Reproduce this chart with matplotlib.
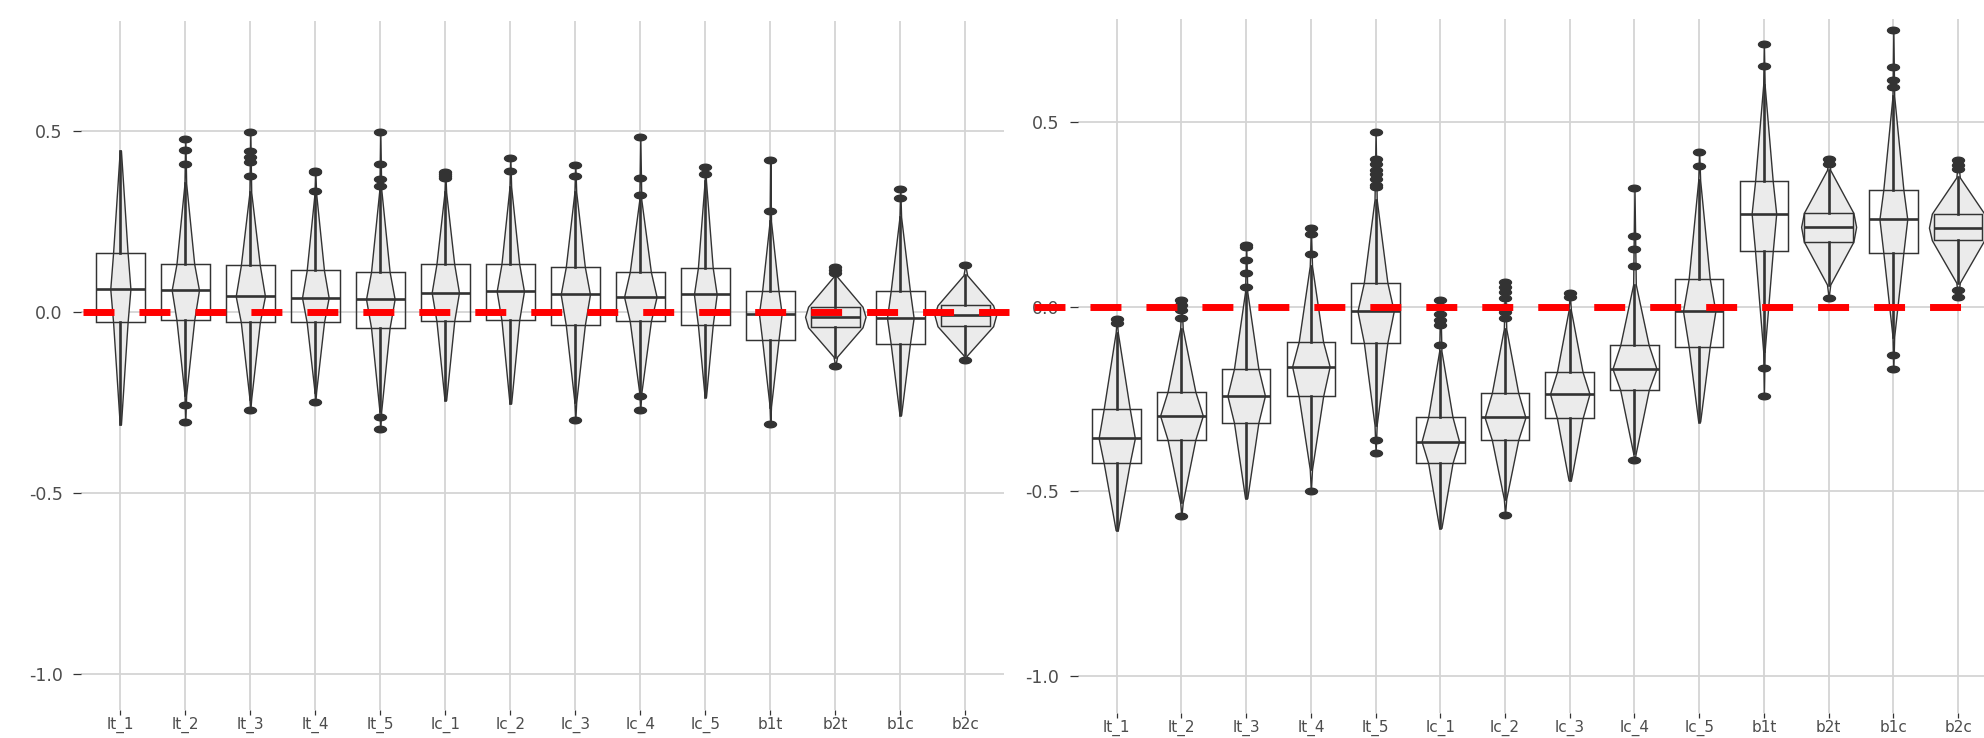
import numpy as np
import matplotlib.pyplot as plt
from matplotlib.lines import Line2D
from matplotlib.path import Path
from matplotlib.patches import Rectangle
from matplotlib.transforms import Affine2D, blended_transform_factory

plt.rcParams['lines.scale_dashes'] = False
plt.rcParams['axes.unicode_minus'] = False
plt.rcParams['font.family'] = ['DejaVu Sans']

###############################
# values
###############################
names = ['lt_1', 'lt_2', 'lt_3', 'lt_4', 'lt_5', 'lc_1', 'lc_2', 'lc_3', 'lc_4', 'lc_5',
         'b1t', 'b2t', 'b1c', 'b2c']
yticks = [-1.0, -0.5, 0.0, 0.5]
ytick_labels = ['-1.0', '-0.5', '0.0', '0.5']

# left panel
left_med = [0.063, 0.060, 0.043, 0.039, 0.035, 0.053, 0.057, 0.048, 0.041, 0.048, -0.005, -0.014, -0.017, -0.009]
left_q1 = [-0.029, -0.023, -0.029, -0.029, -0.044, -0.026, -0.023, -0.037, -0.026, -0.037, -0.078, -0.043, -0.089, -0.040]
left_q3 = [0.163, 0.132, 0.128, 0.114, 0.110, 0.132, 0.132, 0.124, 0.110, 0.122, 0.058, 0.014, 0.058, 0.018]
left_wlo = [-0.311, -0.23, -0.24, -0.221, -0.275, -0.244, -0.253, -0.25, -0.225, -0.235, -0.262, -0.124, -0.285, -0.120]
left_whi = [0.445, 0.355, 0.33, 0.327, 0.34, 0.33, 0.345, 0.331, 0.31, 0.36, 0.25, 0.097, 0.262, 0.101]
left_vwidth = [0.31, 0.42, 0.45, 0.41, 0.44, 0.42, 0.42, 0.45, 0.50, 0.35, 0.35, 0.93, 0.41, 0.95]
left_shoulder = [0.72, 0.65, 0.65, 0.65, 0.65, 0.65, 0.65, 0.65, 0.65, 0.65, 0.72, 0.9, 0.72, 0.9]
left_out = [
    [],
    [0.476, 0.448, 0.407, -0.258, -0.304],
    [0.496, 0.444, 0.428, 0.413, 0.375, -0.272],
    [0.389, 0.385, 0.334, -0.250],
    [0.496, 0.407, 0.366, 0.347, -0.292, -0.324],
    [0.385, 0.380, 0.375, 0.370],
    [0.426, 0.389],
    [0.405, 0.375, -0.299],
    [0.483, 0.370, 0.322, -0.233, -0.272],
    [0.399, 0.38],
    [0.419, 0.279, -0.310],
    [0.124, 0.115, 0.106, -0.150],
    [0.338, 0.313],
    [0.129, -0.134],
]

# right panel
right_med = [-0.356, -0.295, -0.241, -0.162, -0.012, -0.365, -0.300, -0.236, -0.168, -0.012, 0.252, 0.216, 0.237, 0.214]
right_q1 = [-0.423, -0.360, -0.314, -0.243, -0.097, -0.423, -0.360, -0.302, -0.225, -0.108, 0.150, 0.176, 0.146, 0.180]
right_q3 = [-0.277, -0.230, -0.168, -0.095, 0.065, -0.299, -0.234, -0.177, -0.105, 0.076, 0.339, 0.254, 0.317, 0.252]
right_wlo = [-0.605, -0.53, -0.518, -0.44, -0.32, -0.599, -0.52, -0.47, -0.396, -0.311, -0.12, 0.06, -0.081, 0.065]
right_whi = [-0.07, -0.06, 0.04, 0.11, 0.29, -0.12, -0.06, -0.01, 0.06, 0.342, 0.6, 0.37, 0.57, 0.35]
right_vwidth = [0.56, 0.66, 0.58, 0.58, 0.56, 0.58, 0.63, 0.61, 0.68, 0.50, 0.38, 0.85, 0.43, 0.90]
right_shoulder = [0.72, 0.65, 0.65, 0.65, 0.65, 0.65, 0.65, 0.65, 0.65, 0.65, 0.72, 0.9, 0.72, 0.9]
right_out = [
    [-0.032, -0.043],
    [0.018, 0.005, -0.01, -0.03, -0.566],
    [0.167, 0.162, 0.126, 0.090, 0.054],
    [0.212, 0.198, 0.144, -0.500],
    [0.472, 0.401, 0.387, 0.369, 0.360, 0.347, 0.329, 0.323, -0.36, -0.396],
    [0.018, -0.02, -0.035, -0.05, -0.104],
    [0.068, 0.054, 0.041, 0.023, 0.0, -0.015, -0.03, -0.563],
    [0.036, 0.027],
    [0.320, 0.191, 0.155, 0.110, -0.416],
    [0.419, 0.381],
    [0.710, 0.653, -0.167, -0.241],
    [0.400, 0.387, 0.024],
    [0.750, 0.649, 0.614, 0.595, -0.131, -0.169],
    [0.396, 0.383, 0.374, 0.045, 0.027],
]

###############################
# drawing helpers
###############################
DARK = '#333333'
circ = Path.unit_circle()
oval = Path(Affine2D().scale(1.0, 0.55).transform(circ.vertices), circ.codes)


def draw_panel(fig, ax, med, q1, q3, wlo, whi, vwidth, shoulder, outs, ylim, red_x):
    n = len(names)
    for i in range(n):
        lo = min([wlo[i]] + outs[i])
        hi = max([whi[i]] + outs[i])
        hw = vwidth[i] / 2
        ys = np.array([lo, wlo[i], q1[i], med[i], q3[i], whi[i], hi])
        ws = np.array([0, 0.06, shoulder[i], 1.0, shoulder[i], 0.06, 0]) * hw
        ax.fill_betweenx(ys, i - ws, i + ws, facecolor='#EBEBEB', edgecolor=DARK,
                         linewidth=1.0, zorder=2)
        ax.add_patch(Rectangle((i - 0.375, q1[i]), 0.75, q3[i] - q1[i], fill=False,
                               edgecolor=DARK, linewidth=1.05, zorder=3))
        ax.plot([i, i], [q3[i], whi[i]], color=DARK, lw=1.9, zorder=3)
        ax.plot([i, i], [wlo[i], q1[i]], color=DARK, lw=1.9, zorder=3)
        ax.plot([i - 0.375, i + 0.375], [med[i], med[i]], color=DARK, lw=1.9, zorder=3,
                solid_capstyle='butt')
        if outs[i]:
            ax.plot([i] * len(outs[i]), outs[i], linestyle='none', marker=oval,
                    markersize=8.6, color=DARK, zorder=4)

    ax.set_xlim(-0.6, n - 0.4)
    ax.set_ylim(*ylim)
    ax.set_xticks(range(n))
    ax.set_xticklabels(names)
    ax.set_yticks(yticks)
    ax.set_yticklabels(ytick_labels)
    for s in ax.spines.values():
        s.set_visible(False)
    ax.grid(True, color='#D4D4D4', lw=1.3)
    ax.set_axisbelow(True)
    ax.tick_params(axis='y', length=5.5, width=0.9, color=DARK, pad=8,
                   labelsize=12.5, labelcolor='#4D4D4D')
    ax.tick_params(axis='x', length=3.6, width=0.9, color=DARK, pad=1.5,
                   labelsize=11, labelcolor='#4D4D4D')

    # red reference line at zero, drawn on the figure so it runs past the panel
    trans = blended_transform_factory(fig.transFigure, ax.transData)
    fig.add_artist(Line2D(red_x, [0, 0], transform=trans, color='red', lw=5,
                          dashes=(22.3, 18), zorder=5))


###############################
# figure
###############################
fig = plt.figure(figsize=(19.84, 7.38), dpi=100)
ax1 = fig.add_axes([0.0410, 0.0379, 0.4652, 0.9336])
ax2 = fig.add_axes([0.5433, 0.0339, 0.4632, 0.9404])

draw_panel(fig, ax1, left_med, left_q1, left_q3, left_wlo, left_whi, left_vwidth,
           left_shoulder, left_out, (-1.100, 0.803), [0.0416, 0.5086])
draw_panel(fig, ax2, right_med, right_q1, right_q3, right_wlo, right_whi, right_vwidth,
           right_shoulder, right_out, (-1.100, 0.779), [0.5212, 1.0])

fig.savefig('out.png', dpi=100)
